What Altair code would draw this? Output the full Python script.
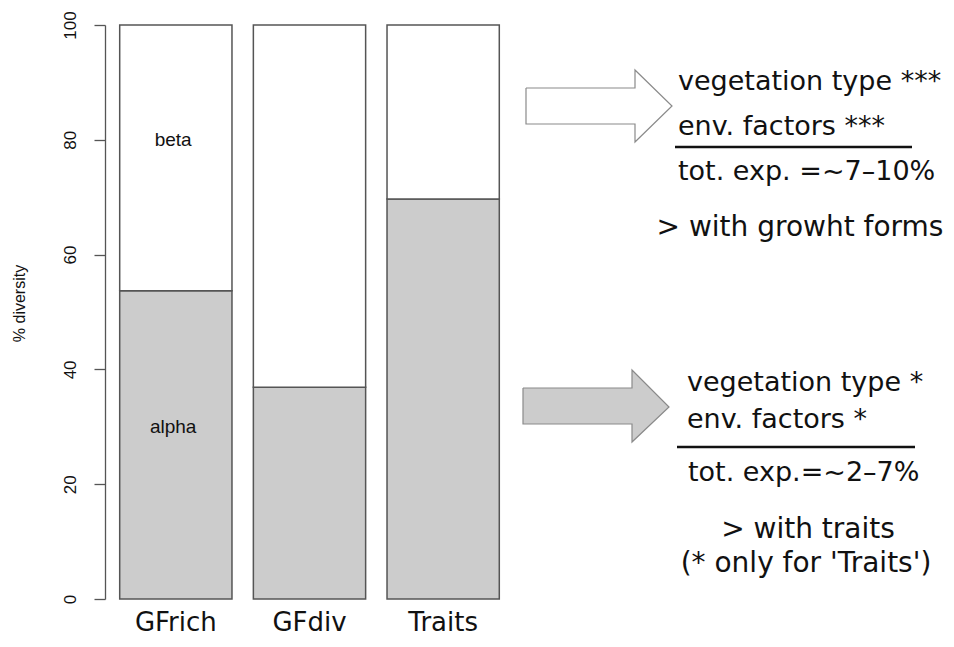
import altair as alt
import pandas as pd

# ---------------- data ----------------
categories = ["GFrich", "GFdiv", "Traits"]
alpha_pct = [53.7, 36.9, 69.7]          # alpha share (grey part) of each bar
part_names = ["alpha", "beta"]
part_colors = ["#cccccc", "#ffffff"]
in_bar_labels = ["beta", "alpha"]
in_bar_label_y = [80, 30]               # value on the % axis where the words sit
y_ticks = [0, 20, 40, 60, 80, 100]

# annotation panel (page-pixel coordinate system of the annotation layer)
arrow_ids = ["top", "bottom"]
arrow_fills = ["#ffffff", "#cccccc"]
arrow_left = [526, 523]
arrow_neck = [635, 632]
arrow_tip = [672, 669]
arrow_body_top = [88, 388]
arrow_body_bot = [124, 424]
arrow_head_top = [70, 370]
arrow_head_bot = [142, 442]
arrow_tip_y = [106, 407]

left_text = ["vegetation type ***", "env. factors ***", "tot. exp. =~7\u201310%",
             "vegetation type *", "env. factors *", "tot. exp.=~2\u20137%"]
left_text_x = [678, 678, 678, 687, 687, 688]
left_text_y = [82, 127, 172, 383, 420, 473]

center_text = ["> with growht forms", "> with traits", "(* only for 'Traits')"]
center_text_x = [800, 808, 806]
center_text_y = [228, 530, 564]

rule_x = [675, 677]
rule_x2 = [912, 915]
rule_y = [147, 447]

# ---------------- tables ----------------
bar_rows = []
for c, a in zip(categories, alpha_pct):
    bar_rows.append({"cat": c, "part": "alpha", "lo": 0, "hi": a})
    bar_rows.append({"cat": c, "part": "beta", "lo": a, "hi": 100})
bars_df = pd.DataFrame(bar_rows)

lab_df = pd.DataFrame({"cat": [categories[0]] * 2, "txt": in_bar_labels, "val": in_bar_label_y})

body_df = pd.DataFrame({"arrow": arrow_ids, "x": arrow_left, "x2": arrow_neck,
                        "y": arrow_body_top, "y2": arrow_body_bot})
head_rows, outline_rows = [], []
for k, a in enumerate(arrow_ids):
    head_rows.append({"arrow": a, "x": arrow_neck[k], "y": arrow_head_top[k], "y2": arrow_head_bot[k]})
    head_rows.append({"arrow": a, "x": arrow_tip[k], "y": arrow_tip_y[k], "y2": arrow_tip_y[k]})
    pts = [(arrow_left[k], arrow_body_top[k]), (arrow_neck[k], arrow_body_top[k]),
           (arrow_neck[k], arrow_head_top[k]), (arrow_tip[k], arrow_tip_y[k]),
           (arrow_neck[k], arrow_head_bot[k]), (arrow_neck[k], arrow_body_bot[k]),
           (arrow_left[k], arrow_body_bot[k]), (arrow_left[k], arrow_body_top[k])]
    for i, (px, py) in enumerate(pts):
        outline_rows.append({"arrow": a, "i": i, "x": px, "y": py})
head_df = pd.DataFrame(head_rows)
outline_df = pd.DataFrame(outline_rows)

left_df = pd.DataFrame({"txt": left_text, "x": left_text_x, "y": left_text_y})
center_df = pd.DataFrame({"txt": center_text, "x": center_text_x, "y": center_text_y})
rule_df = pd.DataFrame({"x": rule_x, "x2": rule_x2, "y": rule_y})

# ---------------- scales ----------------
PLOT_W, PLOT_H = 835, 574
band = alt.Scale(domain=categories, range=[0, 409], paddingInner=0.16, paddingOuter=0.11)
pct = alt.Scale(domain=[0, 100], nice=False, zero=True)
ax_x = alt.Scale(domain=[105, 105 + PLOT_W], nice=False, zero=False)
ax_y = alt.Scale(domain=[599, 25], nice=False, zero=False)
arrow_fill_scale = alt.Scale(domain=arrow_ids, range=arrow_fills)

# ---------------- layers ----------------
bars = alt.Chart(bars_df).mark_bar(stroke="#555555", strokeWidth=1.5).encode(
    x=alt.X("cat:N", scale=band, sort=categories,
            axis=alt.Axis(title=None, domain=False, ticks=False, labelAngle=0,
                          labelFont="DejaVu Sans", labelFontSize=26, labelColor="#111111",
                          labelBaseline="alphabetic", labelPadding=31)),
    y=alt.Y("lo:Q", scale=pct,
            axis=alt.Axis(values=y_ticks, grid=False, title="% diversity",
                          domainColor="#555555", domainWidth=1.3,
                          tickColor="#555555", tickWidth=1.3, tickSize=11,
                          labelFont="Liberation Sans", labelFontSize=17, labelColor="#111111",
                          labelAngle=270, labelAlign="center", labelBaseline="alphabetic",
                          labelPadding=19,
                          titleFont="Liberation Sans", titleFontSize=16, titleFontWeight="normal",
                          titleColor="#111111", titleAngle=270, titleAlign="center",
                          titleBaseline="middle", titleX=-86, titleY=278)),
    y2="hi:Q",
    fill=alt.Fill("part:N", scale=alt.Scale(domain=part_names, range=part_colors), legend=None),
)

labels = alt.Chart(lab_df).mark_text(font="Liberation Sans", fontSize=19, color="#111111",
                                     baseline="middle").encode(
    x=alt.X("cat:N", scale=band, sort=categories, axis=None),
    y=alt.Y("val:Q", scale=pct, axis=None),
    text="txt:N",
)

arrow_body = alt.Chart(body_df).mark_rect(strokeWidth=0).encode(
    x=alt.X("x:Q", scale=ax_x, axis=None), x2="x2:Q",
    y=alt.Y("y:Q", scale=ax_y, axis=None), y2="y2:Q",
    fill=alt.Fill("arrow:N", scale=arrow_fill_scale, legend=None),
)
arrow_head = alt.Chart(head_df).mark_area(strokeWidth=0).encode(
    x=alt.X("x:Q", scale=ax_x, axis=None),
    y=alt.Y("y:Q", scale=ax_y, axis=None), y2="y2:Q",
    fill=alt.Fill("arrow:N", scale=arrow_fill_scale, legend=None),
    detail="arrow:N",
)
arrow_outline = alt.Chart(outline_df).mark_line(color="#8a8a8a", strokeWidth=1.2).encode(
    x=alt.X("x:Q", scale=ax_x, axis=None),
    y=alt.Y("y:Q", scale=ax_y, axis=None),
    detail="arrow:N",
    order=alt.Order("i:Q"),
)

left_txt = alt.Chart(left_df).mark_text(font="DejaVu Sans", fontSize=27, color="#111111",
                                        align="left", baseline="middle").encode(
    x=alt.X("x:Q", scale=ax_x, axis=None),
    y=alt.Y("y:Q", scale=ax_y, axis=None),
    text="txt:N",
)
center_txt = alt.Chart(center_df).mark_text(font="DejaVu Sans", fontSize=28, color="#111111",
                                            align="center", baseline="middle").encode(
    x=alt.X("x:Q", scale=ax_x, axis=None),
    y=alt.Y("y:Q", scale=ax_y, axis=None),
    text="txt:N",
)
rules = alt.Chart(rule_df).mark_rule(color="#111111", strokeWidth=2.5).encode(
    x=alt.X("x:Q", scale=ax_x, axis=None),
    x2="x2:Q",
    y=alt.Y("y:Q", scale=ax_y, axis=None),
)

chart = alt.layer(bars, labels, arrow_body, arrow_head, arrow_outline, rules,
                  left_txt, center_txt).resolve_scale(
    x="independent", y="independent", fill="independent"
).properties(
    width=PLOT_W, height=PLOT_H,
    background="white",
    autosize=alt.AutoSizeParams(type="none"),
    padding={"left": 97, "top": 17, "right": 6, "bottom": 38},
).configure_view(stroke=None)

chart.save("out.html", embed_options={"renderer": "svg", "actions": False})
